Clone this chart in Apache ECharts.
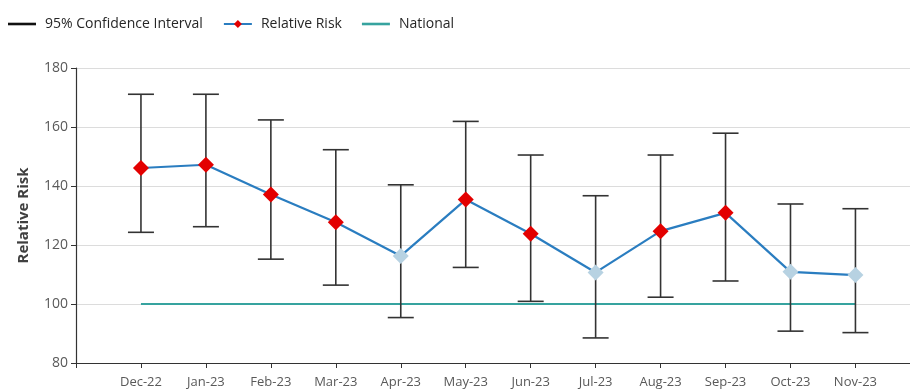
<!DOCTYPE html>
<html>
<head>
<meta charset="utf-8">
<script src="https://cdn.jsdelivr.net/npm/echarts@6/dist/echarts.min.js"></script>
<style>
  html, body { margin: 0; padding: 0; background: #fff; }
  #chart { width: 910px; height: 389px; }
</style>
</head>
<body>
<div id="chart"></div>
<script>
// Monthly relative risk with 95% confidence intervals against the national baseline
const months = ['Dec-22', 'Jan-23', 'Feb-23', 'Mar-23', 'Apr-23', 'May-23',
                'Jun-23', 'Jul-23', 'Aug-23', 'Sep-23', 'Oct-23', 'Nov-23'];
const relativeRisk = [146.1, 147.2, 137.1, 127.7, 116.3, 135.4, 123.8, 110.7, 124.7, 130.9, 110.9, 109.8];
const ciLow  = [124.3, 126.2, 115.2, 106.4, 95.4, 112.4, 100.9, 88.5, 102.3, 107.8, 90.8, 90.3];
const ciHigh = [171.1, 171.1, 162.4, 152.3, 140.4, 161.9, 150.5, 136.7, 150.5, 157.9, 133.9, 132.3];
const national = [100, 100, 100, 100, 100, 100, 100, 100, 100, 100, 100, 100];
const yTicks = { min: 80, max: 180, step: 20 };

const FONT = '"Open Sans", "Noto Sans", sans-serif';
const RED = '#e30000';
const PALE = '#b7d2e2';
const LINE_ICON = 'path://M0,0 L28,0 L28,2.6 L0,2.6 Z';

const rrData = relativeRisk.map((v, i) => ({
  value: [i, v],
  // markers are highlighted when the interval sits entirely above the national level
  itemStyle: { color: ciLow[i] > national[i] ? RED : PALE }
}));
const ciData = months.map((m, i) => [i, ciLow[i], ciHigh[i]]);
const natData = national.map((v, i) => [i, v]);
const monthPositions = months.map((m, i) => i);

const chart = echarts.init(document.getElementById('chart'), null, { renderer: 'canvas' });

chart.setOption({
  animation: false,
  backgroundColor: '#fff',
  textStyle: { fontFamily: FONT },
  legend: {
    left: 3,
    top: 12,
    itemWidth: 28,
    itemHeight: 10,
    itemGap: 20,
    textStyle: { fontFamily: FONT, fontSize: 14, color: '#262626', padding: [0, 0, 0, 4] },
    data: [
      { name: '95% Confidence Interval', icon: LINE_ICON },
      { name: 'Relative Risk' },
      { name: 'National', icon: LINE_ICON }
    ]
  },
  grid: { left: 76, top: 68, right: 0, bottom: 24.7, containLabel: false },
  xAxis: {
    type: 'value',
    min: -1,
    max: 11.84,
    axisLine: { show: true, onZero: false, lineStyle: { color: '#333', width: 1.2 } },
    axisTick: { show: true, length: 5, customValues: [-1].concat(monthPositions), lineStyle: { color: '#333' } },
    splitLine: { show: false },
    axisLabel: {
      margin: 13,
      fontFamily: FONT,
      fontSize: 13,
      color: '#595959',
      customValues: monthPositions,
      formatter: v => months[Math.round(v)] || ''
    }
  },
  yAxis: {
    type: 'value',
    min: yTicks.min,
    max: yTicks.max,
    interval: yTicks.step,
    name: 'Relative Risk',
    nameLocation: 'middle',
    nameGap: 45,
    nameTextStyle: { fontFamily: FONT, fontSize: 15, fontWeight: 'bold', color: '#404040' },
    axisLine: { show: true, onZero: false, lineStyle: { color: '#333', width: 1.2 } },
    axisTick: { show: true, length: 5, lineStyle: { color: '#333' } },
    splitLine: { show: true, lineStyle: { color: '#dcdcdc', width: 1 } },
    axisLabel: { margin: 8, fontFamily: FONT, fontSize: 14, color: '#595959' }
  },
  series: [
    {
      name: '95% Confidence Interval',
      type: 'line',
      data: [],
      symbol: 'none',
      lineStyle: { color: '#111', width: 2.5 },
      itemStyle: { color: '#111' }
    },
    {
      name: 'National',
      type: 'line',
      data: natData,
      symbol: 'none',
      z: 1,
      lineStyle: { color: '#36a39f', width: 2.2 },
      itemStyle: { color: '#36a39f' }
    },
    {
      name: 'ci-bars',
      type: 'custom',
      z: 2,
      data: ciData,
      renderItem: function (params, api) {
        const x = api.value(0);
        const lo = api.coord([x, api.value(1)]);
        const hi = api.coord([x, api.value(2)]);
        const cap = 13;
        const style = { stroke: '#333', lineWidth: 1.6 };
        return {
          type: 'group',
          children: [
            { type: 'line', shape: { x1: lo[0], y1: lo[1], x2: hi[0], y2: hi[1] }, style },
            { type: 'line', shape: { x1: hi[0] - cap, y1: hi[1], x2: hi[0] + cap, y2: hi[1] }, style },
            { type: 'line', shape: { x1: lo[0] - cap, y1: lo[1], x2: lo[0] + cap, y2: lo[1] }, style }
          ]
        };
      }
    },
    {
      name: 'Relative Risk',
      type: 'line',
      z: 3,
      data: rrData,
      symbol: 'diamond',
      symbolSize: 16,
      showAllSymbol: true,
      lineStyle: { color: '#2a7dc0', width: 2.2 },
      itemStyle: { color: RED }
    }
  ]
});
</script>
</body>
</html>
